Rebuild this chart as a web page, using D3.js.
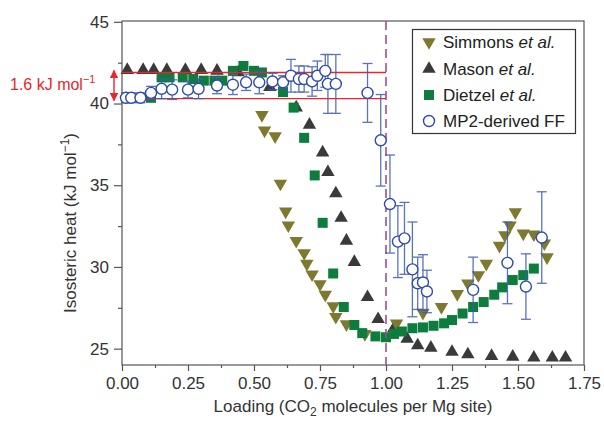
<!DOCTYPE html>
<html>
<head>
<meta charset="utf-8">
<script src="https://cdn.jsdelivr.net/npm/d3@7"></script>
<style>
body { margin: 0; background: #fff; }
text { font-family: "Liberation Sans", Arial, sans-serif; }
</style>
</head>
<body>
<script>
// tick labels
var xTicks = [0, 0.25, 0.5, 0.75, 1.0, 1.25, 1.5, 1.75];
var xMinor = [0.125, 0.375, 0.625, 0.875, 1.125, 1.375, 1.625];
var yTicks = [25, 30, 35, 40, 45];
var yMinor = [27.5, 32.5, 37.5, 42.5];

// Simmons et al.
var simmonsLoading = [0.53, 0.54, 0.58, 0.60, 0.62, 0.63, 0.66, 0.69, 0.70, 0.72, 0.75, 0.77, 0.80, 0.81, 0.85, 0.92,
    1.04, 1.14, 1.21, 1.27, 1.31, 1.35, 1.38, 1.43, 1.45, 1.47, 1.49, 1.52, 1.56, 1.60, 1.61];
var simmonsHeat = [39.3, 38.35, 38.0, 35.1, 33.4, 32.55, 31.6, 30.85, 30.2, 29.55, 28.95, 28.3, 27.6, 26.95, 26.5, 25.9,
    26.55, 27.2, 27.55, 28.35, 29.0, 29.5, 30.2, 31.3, 31.95, 32.55, 33.35, 32.05, 32.0, 31.45, 30.6];

// Mason et al.
var masonLoading = [0.02, 0.08, 0.12, 0.17, 0.24, 0.30, 0.36, 0.44, 0.56, 0.66, 0.71, 0.76, 0.78, 0.81, 0.83, 0.85,
    0.88, 0.93, 0.97, 1.03, 1.08, 1.12, 1.17, 1.25, 1.31, 1.40, 1.48, 1.56, 1.63, 1.68];
var masonHeat = [42.05, 42.05, 42.05, 42.05, 42.05, 42.05, 42.0, 41.9, 41.0, 39.75, 38.7, 37.0, 35.8, 34.5, 33.0, 31.6,
    30.3, 28.15, 26.8, 26.25, 25.6, 25.2, 25.05, 24.8, 24.65, 24.55, 24.5, 24.45, 24.45, 24.45];

// Dietzel et al.
var dietzelLoading = [0.11, 0.15, 0.18, 0.23, 0.27, 0.31, 0.35, 0.38, 0.42, 0.46, 0.50, 0.53, 0.61, 0.65, 0.69, 0.73,
    0.76, 0.80, 0.84, 0.88, 0.91, 0.96, 1.00, 1.03, 1.06, 1.10, 1.14, 1.18, 1.22, 1.25, 1.29, 1.33, 1.37, 1.41, 1.44,
    1.48, 1.52, 1.56];
var dietzelHeat = [40.35, 41.6, 41.6, 41.6, 41.5, 41.4, 41.4, 41.4, 42.0, 42.3, 42.0, 41.9, 40.7, 39.75, 37.9, 35.6,
    32.7, 29.6, 27.55, 26.45, 25.95, 25.75, 25.7, 25.9, 26.05, 26.25, 26.3, 26.4, 26.55, 26.75, 27.15, 27.55, 27.85,
    28.3, 28.75, 29.2, 29.5, 29.9];

// MP2-derived FF (with error bars)
var mp2Loading = [0.015, 0.035, 0.07, 0.11, 0.15, 0.19, 0.25, 0.29, 0.36, 0.42, 0.47, 0.52, 0.57, 0.61, 0.64, 0.67,
    0.69, 0.72, 0.74, 0.77, 0.78, 0.81, 0.93, 0.98, 1.015, 1.045, 1.07, 1.10, 1.12, 1.14, 1.155, 1.33, 1.46, 1.53, 1.59];
var mp2Heat = [40.35, 40.35, 40.35, 40.65, 40.9, 40.85, 40.85, 40.9, 41.1, 41.15, 41.3, 41.3, 41.35, 41.3, 41.7, 41.5,
    41.5, 41.35, 41.7, 42.0, 41.2, 41.2, 40.65, 37.75, 33.85, 31.55, 31.75, 29.85, 29.0, 29.05, 28.5, 28.6, 30.25,
    28.8, 31.8];
var mp2Err = [0.3, 0.3, 0.3, 0.4, 0.6, 0.6, 0.5, 0.6, 0.5, 0.6, 0.5, 0.7, 0.5, 0.4, 1.0, 0.8,
    0.8, 0.9, 0.9, 1.0, 1.8, 1.8, 1.8, 2.8, 3.0, 2.2, 2.2, 2.9, 1.6, 1.7, 1.3, 2.0, 2.5, 2.0, 2.8];

var refLines = [41.9, 40.3];
var legendNames = ["Simmons", "Mason", "Dietzel", "MP2-derived FF"];

var colSimmons = "#7d7a2f", colMason = "#3a3a3a", colDietzel = "#0e7c3d", colMp2 = "#2f4ca8";

var svg = d3.select("body").append("svg").attr("width", 604).attr("height", 421);

var x = d3.scaleLinear().domain([0, 1.75]).range([122, 584]);
var y = d3.scaleLinear().domain([24, 45.05]).range([365, 21]);

function pts(xs, ys) {
    return xs.map(function(v, i) { return {x: v, y: ys[i]}; });
}

//Axes
var axisCol = "#555";
var gx = svg.append("g").attr("transform", "translate(0,365)")
    .call(d3.axisBottom(x).tickValues(xTicks).tickSize(6).tickSizeOuter(0).tickPadding(6)
        .tickFormat(d3.format(".2f")));
svg.append("g").attr("transform", "translate(0,365)")
    .call(d3.axisBottom(x).tickValues(xMinor).tickSize(3).tickFormat(""));
var gy = svg.append("g").attr("transform", "translate(122,0)")
    .call(d3.axisLeft(y).tickValues(yTicks).tickSize(8).tickSizeOuter(0).tickPadding(5));
svg.append("g").attr("transform", "translate(122,0)")
    .call(d3.axisLeft(y).tickValues(yMinor).tickSize(4).tickFormat(""));
svg.selectAll(".domain").remove();
svg.selectAll(".tick line").attr("stroke", axisCol).attr("stroke-width", 1.2);
svg.selectAll(".tick text").attr("font-size", 17).attr("fill", "#333")
    .style("font-family", "'Liberation Sans', Arial, sans-serif");

svg.append("rect").attr("x", 122).attr("y", 21).attr("width", 462).attr("height", 344)
    .attr("fill", "none").attr("stroke", axisCol).attr("stroke-width", 1.2);

//Axis titles
var xt = svg.append("text").attr("x", 353).attr("y", 412).attr("text-anchor", "middle")
    .attr("font-size", 17).attr("fill", "#333");
xt.append("tspan").text("Loading (CO");
xt.append("tspan").attr("font-size", 12).attr("dy", 4).text("2");
xt.append("tspan").attr("dy", -4).text(" molecules per Mg site)");

var yt = svg.append("text").attr("transform", "translate(76,223)rotate(-90)").attr("text-anchor", "middle")
    .attr("font-size", 17).attr("fill", "#333");
yt.append("tspan").text("Isosteric heat (kJ mol");
yt.append("tspan").attr("font-size", 12).attr("dy", -7).text("\u22121");
yt.append("tspan").attr("dy", 7).text(")");

//Mason
var tri = d3.symbol().type(d3.symbolTriangle).size(78);
svg.append("g").selectAll("path").data(pts(masonLoading, masonHeat)).enter().append("path")
    .attr("d", tri)
    .attr("transform", function(d) { return "translate(" + x(d.x) + "," + y(d.y) + ")"; })
    .attr("fill", colMason);

//Simmons
svg.append("g").selectAll("path").data(pts(simmonsLoading, simmonsHeat)).enter().append("path")
    .attr("d", tri)
    .attr("transform", function(d) { return "translate(" + x(d.x) + "," + y(d.y) + ")rotate(180)"; })
    .attr("fill", colSimmons);

//Dietzel
svg.append("g").selectAll("rect").data(pts(dietzelLoading, dietzelHeat)).enter().append("rect")
    .attr("x", function(d) { return x(d.x) - 5; })
    .attr("y", function(d) { return y(d.y) - 5; })
    .attr("width", 10).attr("height", 10)
    .attr("fill", colDietzel);

//Red band lines
svg.selectAll(".ref").data(refLines).enter().append("line").attr("class", "ref")
    .attr("x1", x(0)).attr("x2", x(1.0))
    .attr("y1", function(d) { return y(d); }).attr("y2", function(d) { return y(d); })
    .attr("stroke", "#e8262b").attr("stroke-width", 1.3);

//x = 1 dashed line
svg.append("line").attr("x1", x(1)).attr("x2", x(1)).attr("y1", y(45.05)).attr("y2", y(24))
    .attr("stroke", "#9c4f98").attr("stroke-width", 1.6).attr("stroke-dasharray", "9,5");

//MP2 error bars + circles
var mp2 = mp2Loading.map(function(v, i) { return {x: v, y: mp2Heat[i], e: mp2Err[i]}; });
var eb = svg.append("g").attr("stroke", "#3d5cb3").attr("stroke-width", 1.3).attr("opacity", 0.85);
eb.selectAll(".bar").data(mp2).enter().append("line").attr("class", "bar")
    .attr("x1", function(d) { return x(d.x); }).attr("x2", function(d) { return x(d.x); })
    .attr("y1", function(d) { return y(d.y + d.e); }).attr("y2", function(d) { return y(d.y - d.e); });
eb.selectAll(".capT").data(mp2).enter().append("line").attr("class", "capT")
    .attr("x1", function(d) { return x(d.x) - 5; }).attr("x2", function(d) { return x(d.x) + 5; })
    .attr("y1", function(d) { return y(d.y + d.e); }).attr("y2", function(d) { return y(d.y + d.e); });
eb.selectAll(".capB").data(mp2).enter().append("line").attr("class", "capB")
    .attr("x1", function(d) { return x(d.x) - 5; }).attr("x2", function(d) { return x(d.x) + 5; })
    .attr("y1", function(d) { return y(d.y - d.e); }).attr("y2", function(d) { return y(d.y - d.e); });
svg.append("g").selectAll("circle").data(mp2).enter().append("circle")
    .attr("cx", function(d) { return x(d.x); }).attr("cy", function(d) { return y(d.y); })
    .attr("r", 5.5).attr("fill", "#fff").attr("stroke", colMp2).attr("stroke-width", 1.4);

//1.6 kJ annotation
svg.append("defs").append("marker").attr("id", "ah").attr("viewBox", "0 0 10 10")
    .attr("refX", 9).attr("refY", 5).attr("markerWidth", 6).attr("markerHeight", 6)
    .attr("orient", "auto-start-reverse")
    .append("path").attr("d", "M0,0L10,5L0,10z").attr("fill", "#e8262b");
svg.append("line").attr("x1", 114).attr("x2", 114).attr("y1", y(refLines[0]) - 2).attr("y2", y(refLines[1]) + 2)
    .attr("stroke", "#e8262b").attr("stroke-width", 1.4)
    .attr("marker-start", "url(#ah)").attr("marker-end", "url(#ah)");
var at = svg.append("text").attr("x", 10).attr("y", 90).attr("font-size", 16).attr("fill", "#e8262b");
at.append("tspan").text("1.6 kJ mol");
at.append("tspan").attr("font-size", 11).attr("dy", -7).text("\u22121");

//Legend
var lg = svg.append("g");
lg.append("rect").attr("x", 412.5).attr("y", 29.5).attr("width", 163).attr("height", 104)
    .attr("fill", "#fff").attr("stroke", "#333").attr("stroke-width", 1.2);
var rows = [48, 75, 101, 127];
legendNames.forEach(function(name, i) {
    var cy = rows[i] - 6;
    if (i === 0) {
        lg.append("path").attr("d", tri).attr("transform", "translate(429," + cy + ")rotate(180)").attr("fill", colSimmons);
    } else if (i === 1) {
        lg.append("path").attr("d", tri).attr("transform", "translate(429," + cy + ")").attr("fill", colMason);
    } else if (i === 2) {
        lg.append("rect").attr("x", 424).attr("y", cy - 5).attr("width", 10).attr("height", 10).attr("fill", colDietzel);
    } else {
        lg.append("circle").attr("cx", 429).attr("cy", cy).attr("r", 5.5).attr("fill", "#fff")
            .attr("stroke", colMp2).attr("stroke-width", 1.4);
    }
    var t = lg.append("text").attr("x", 443).attr("y", rows[i]).attr("font-size", 17).attr("fill", "#222");
    if (i < 3) {
        t.append("tspan").text(name + " ");
        t.append("tspan").attr("font-style", "italic").text("et al.");
    } else {
        t.text(name);
    }
});
</script>
</body>
</html>
